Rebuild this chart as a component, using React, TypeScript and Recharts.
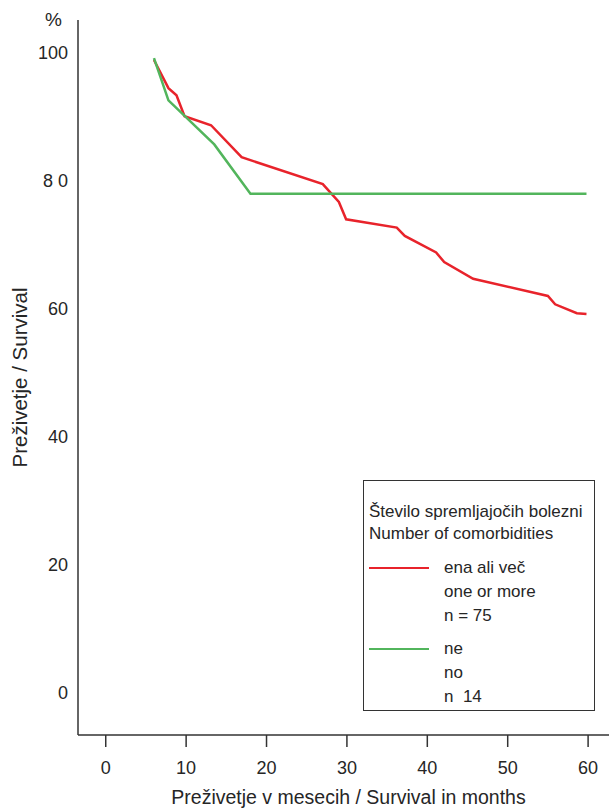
import { Label, Legend, Line, LineChart, XAxis, YAxis } from 'recharts';

// survival curves (months / % surviving)
const redMonths = [6, 7.8, 8.8, 9.8, 13.1, 16.9, 27, 29, 29.9, 36.2, 37.2, 41.1, 42.1, 45.7, 55, 55.9, 58.6, 59.8];
const redSurvival = [98.9, 94.5, 93.4, 90.1, 88.7, 83.7, 79.5, 76.7, 74.0, 72.7, 71.4, 68.8, 67.3, 64.7, 62.0, 60.7, 59.3, 59.2];
const greenMonths = [6, 7.8, 13.5, 18, 59.8];
const greenSurvival = [99.2, 92.6, 85.7, 78.0, 78.0];

const xTicks = [0, 10, 20, 30, 40, 50, 60];
const yTicks = [0, 20, 40, 60, 80, 100];
const yTickLabels = ['0', '20', '40', '60', '8 0', '100'];

const legendTitle = ['Število spremljajočih bolezni', 'Number of comorbidities'];
const redLabel = ['ena ali več', 'one or more', 'n = 75'];
const greenLabel = ['ne', 'no', 'n  14'];

const RED = '#e8232b';
const GREEN = '#52b55c';
const INK = '#262626';
const FONT = '"Liberation Sans", Arial, Helvetica, sans-serif';

const redData = redMonths.map((m, i) => ({ month: m, survival: redSurvival[i] }));
const greenData = greenMonths.map((m, i) => ({ month: m, survival: greenSurvival[i] }));

function LegendBox() {
  const entry = (color: string, lines: string[]) => (
    <div style={{ position: 'relative', paddingLeft: 80, paddingBottom: 9 }}>
      <div style={{ position: 'absolute', left: 5, top: 10.5, width: 60, height: 2.5, background: color }} />
      {lines.map((t) => (
        <div key={t} style={{ lineHeight: '24px', height: 24, whiteSpace: 'pre' }}>{t}</div>
      ))}
    </div>
  );
  return (
    <div style={{
      boxSizing: 'border-box', width: 232, height: 231, border: '1.5px solid #333',
      background: '#fff', fontFamily: FONT, fontSize: 17, color: INK, paddingTop: 20,
    }}>
      <div style={{ paddingLeft: 5, marginBottom: 12 }}>
        {legendTitle.map((t) => (
          <div key={t} style={{ lineHeight: '21.6px', height: 21.6, whiteSpace: 'nowrap' }}>{t}</div>
        ))}
      </div>
      {entry(RED, redLabel)}
      {entry(GREEN, greenLabel)}
    </div>
  );
}

export default function App() {
  return (
    <div style={{ position: 'absolute', left: 0, top: 0 }}>
      <LineChart width={609} height={808} margin={{ top: 20, right: 0, bottom: 0, left: 0 }} style={{ fontFamily: FONT }}>
        <XAxis
          dataKey="month"
          type="number"
          domain={[-3.45, 62.6]}
          allowDataOverflow
          ticks={xTicks}
          height={73}
          axisLine={{ stroke: '#333', strokeWidth: 1.5 }}
          tickLine={{ stroke: '#333', strokeWidth: 1.5 }}
          tickSize={12}
          tickMargin={14}
          tick={{ fontSize: 18, fill: INK }}
        >
          <Label
            content={(props: any) => {
              const vb = props.viewBox;
              return (
                <text x={vb.x + vb.width / 2 + 5} y={804} textAnchor="middle" fontSize={19.5} fill={INK} fontFamily={FONT}>
                  Preživetje v mesecih / Survival in months
                </text>
              );
            }}
          />
        </XAxis>
        <XAxis
          xAxisId="top"
          orientation="top"
          dataKey="month"
          type="number"
          domain={[-3.45, 62.6]}
          allowDataOverflow
          height={0}
          tick={false}
          tickLine={false}
          axisLine={{ stroke: '#333', strokeWidth: 1.5 }}
        />
        <YAxis
          type="number"
          domain={[-6.65, 105.16]}
          allowDataOverflow
          ticks={yTicks}
          width={78}
          axisLine={{ stroke: '#333', strokeWidth: 1.5 }}
          tickLine={false}
          tickSize={0}
          tickMargin={10}
          tick={{ fontSize: 18, fill: INK }}
          tickFormatter={(v: number) => yTickLabels[yTicks.indexOf(v)]}
        >
          <Label
            content={(props: any) => {
              const vb = props.viewBox;
              const cy = vb.y + vb.height / 2;
              return (
                <text x={27} y={cy} transform={`rotate(-90, 27, ${cy})`} textAnchor="middle" fontSize={20.5} fill={INK} fontFamily={FONT}>
                  Preživetje / Survival
                </text>
              );
            }}
          />
          <Label
            content={() => (
              <text x={53.5} y={26} textAnchor="middle" fontSize={19} fill={INK} fontFamily={FONT}>%</text>
            )}
          />
        </YAxis>
        <Line data={redData} dataKey="survival" type="linear" stroke={RED} strokeWidth={2.5} dot={false} isAnimationActive={false} name="ena ali več" />
        <Line data={greenData} dataKey="survival" type="linear" stroke={GREEN} strokeWidth={2.5} dot={false} isAnimationActive={false} name="ne" />
        <Legend
          layout="horizontal"
          verticalAlign="middle"
          align="center"
          content={() => <LegendBox />}
          wrapperStyle={{ position: 'absolute', left: 363, top: 480, width: 232, height: 231 }}
        />
      </LineChart>
    </div>
  );
}
